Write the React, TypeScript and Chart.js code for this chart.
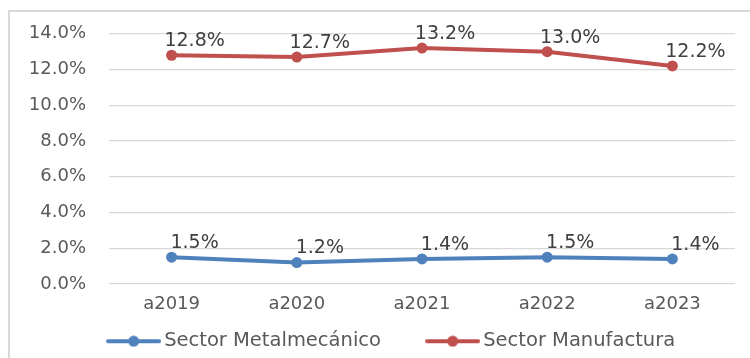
import React, { useEffect, useRef } from "react";
import { Chart, registerables } from "chart.js";

Chart.register(...registerables);

const categories = ["a2019", "a2020", "a2021", "a2022", "a2023"];
const metalmecanico = [1.5, 1.2, 1.4, 1.5, 1.4];
const manufactura = [12.8, 12.7, 13.2, 13.0, 12.2];
const seriesNames = ["Sector Metalmecánico", "Sector Manufactura"];
const yTicks = [0, 2, 4, 6, 8, 10, 12, 14];

const BLUE = "#4f81bd";
const RED = "#c0504d";
const FONT = "'DejaVu Sans'";

function makeMarker(color: string): HTMLCanvasElement {
  const c = document.createElement("canvas");
  c.width = 55;
  c.height = 12;
  const ctx = c.getContext("2d")!;
  ctx.strokeStyle = color;
  ctx.lineWidth = 4;
  ctx.lineCap = "round";
  ctx.beginPath();
  ctx.moveTo(2, 6);
  ctx.lineTo(53, 6);
  ctx.stroke();
  ctx.fillStyle = color;
  ctx.beginPath();
  ctx.arc(27.5, 6, 5.5, 0, Math.PI * 2);
  ctx.fill();
  return c;
}

const borderPlugin = {
  id: "outerBorder",
  beforeDraw(chart: any) {
    const ctx = chart.ctx;
    ctx.save();
    ctx.strokeStyle = "#d9d9d9";
    ctx.lineWidth = 2;
    ctx.beginPath();
    ctx.moveTo(9, chart.height + 5);
    ctx.lineTo(9, 11);
    ctx.lineTo(chart.width + 5, 11);
    ctx.stroke();
    ctx.restore();
  },
};

const labelPlugin = {
  id: "dataLabels",
  afterDatasetsDraw(chart: any) {
    const ctx = chart.ctx;
    ctx.save();
    ctx.font = `19px ${FONT}`;
    ctx.fillStyle = "#404040";
    ctx.textAlign = "center";
    ctx.textBaseline = "middle";
    chart.data.datasets.forEach((ds: any, i: number) => {
      const meta = chart.getDatasetMeta(i);
      meta.data.forEach((pt: any, j: number) => {
        ctx.fillText(Number(ds.data[j]).toFixed(1) + "%", pt.x + 23, pt.y - 14);
      });
    });
    ctx.restore();
  },
};

export default function App() {
  const ref = useRef<HTMLCanvasElement | null>(null);

  useEffect(() => {
    document.body.style.margin = "0";
    document.body.style.overflow = "hidden";
    const markers = [makeMarker(BLUE), makeMarker(RED)];
    const chart = new Chart(ref.current!, {
      type: "line",
      data: {
        labels: categories,
        datasets: [
          {
            label: seriesNames[0],
            data: metalmecanico,
            borderColor: BLUE,
            backgroundColor: BLUE,
            borderWidth: 4,
            pointRadius: 5.5,
            pointBackgroundColor: BLUE,
            pointBorderWidth: 0,
            tension: 0,
          },
          {
            label: seriesNames[1],
            data: manufactura,
            borderColor: RED,
            backgroundColor: RED,
            borderWidth: 4,
            pointRadius: 5.5,
            pointBackgroundColor: RED,
            pointBorderWidth: 0,
            tension: 0,
          },
        ],
      },
      options: {
        animation: false,
        responsive: false,
        devicePixelRatio: 1,
        layout: { padding: { left: 0, right: -38, top: 29, bottom: -3 } },
        scales: {
          x: {
            offset: true,
            grid: { display: false, drawTicks: false },
            border: { display: false },
            ticks: {
              color: "#595959",
              font: { family: FONT, size: 18 },
              padding: 10,
              maxRotation: 0,
            },
            afterFit(scale: any) {
              scale.height = 27.5;
            },
          },
          y: {
            min: 0,
            max: 14,
            grid: { color: "#d9d9d9", lineWidth: 1.3, drawTicks: false },
            border: { display: false },
            afterBuildTicks(scale: any) {
              scale.ticks = yTicks.map((v) => ({ value: v }));
            },
            ticks: {
              color: "#595959",
              font: { family: FONT, size: 18 },
              padding: 23,
              callback: (v: any) => Number(v).toFixed(1) + "%",
            },
            afterFit(scale: any) {
              scale.width = 109;
            },
          },
          yRightSpace: {
            position: "right",
            display: true,
            grid: { display: false, drawTicks: false },
            border: { display: false },
            ticks: { display: false },
            afterFit(scale: any) {
              scale.width = 53;
            },
          },
        },
        plugins: {
          legend: {
            position: "bottom",
            labels: {
              color: "#595959",
              font: { family: FONT, size: 19.5 },
              padding: 20,
              usePointStyle: true,
              pointStyleWidth: 41.5,
              generateLabels(ch: any) {
                return ch.data.datasets.map((ds: any, i: number) => ({
                  text: i === 0 ? ds.label + "     " : ds.label,
                  fillStyle: ds.borderColor,
                  strokeStyle: ds.borderColor,
                  lineWidth: 0,
                  pointStyle: markers[i],
                  hidden: false,
                  datasetIndex: i,
                  fontColor: "#595959",
                }));
              },
            },
          },
          tooltip: { enabled: false },
        },
      },
      plugins: [borderPlugin, labelPlugin],
    });
    return () => chart.destroy();
  }, []);

  return (
    <div style={{ width: 750, height: 358, position: "relative" }}>
      <canvas ref={ref} width={750} height={358} style={{ display: "block" }} />
    </div>
  );
}
